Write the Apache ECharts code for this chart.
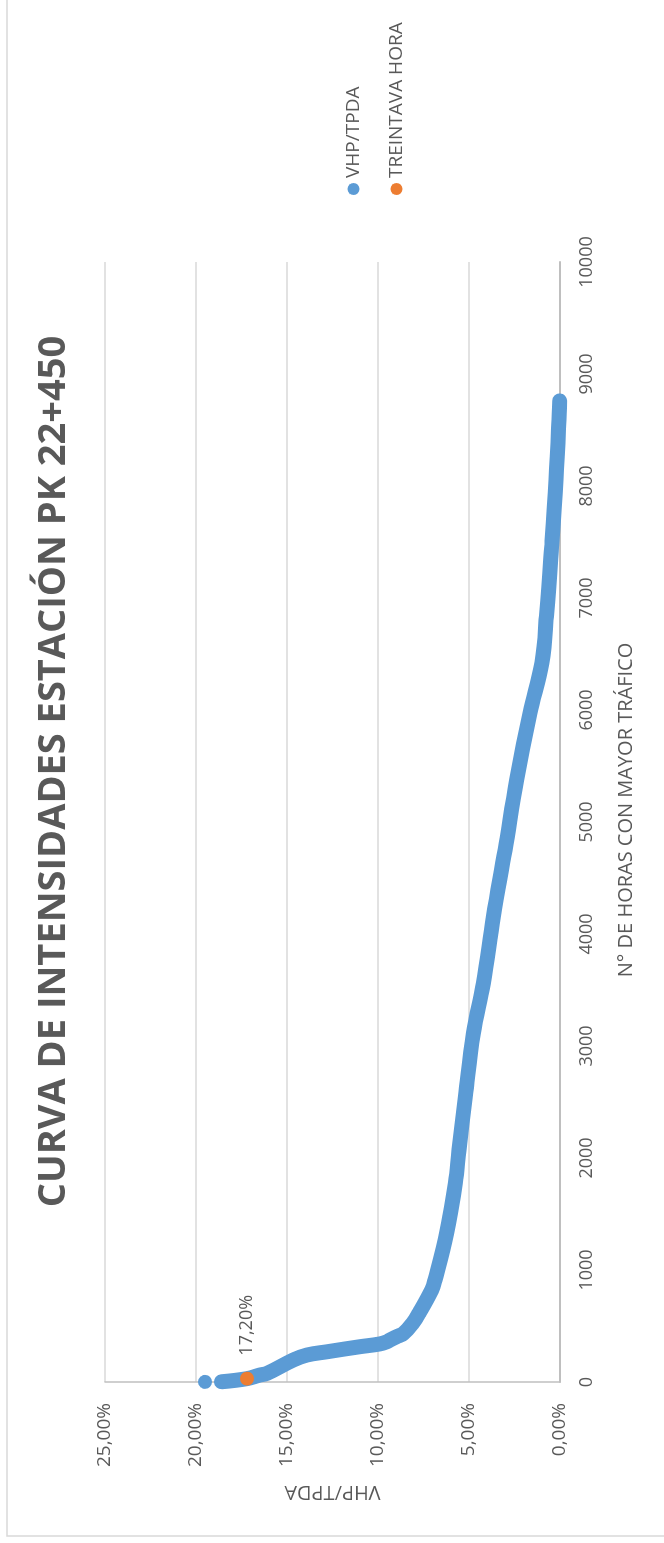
<!DOCTYPE html>
<html>
<head>
<meta charset="utf-8">
<script src="https://cdn.jsdelivr.net/npm/echarts@6/dist/echarts.min.js"></script>
<style>
  html, body { margin: 0; padding: 0; background: #fff; overflow: hidden; }
  #page { position: relative; width: 664px; height: 1543px; overflow: hidden; }
  /* the chart is laid out lying down and turned a quarter to the left */
  #chart {
    position: absolute; left: 0; top: 0;
    width: 1543px; height: 664px;
    transform-origin: 0 0;
    transform: translate(0, 1543px) rotate(-90deg);
  }
</style>
</head>
<body>
<div id="page"><div id="chart"></div></div>
<script>
// hours with more traffic (sorted), and VHP/TPDA in %
const hours = [2, 30, 62, 77, 197, 241, 270, 315, 340, 360, 375, 405, 434, 524, 613, 822, 910, 1330, 1776, 2072, 2549, 3113, 3559, 4155, 4750, 5375, 5973, 6419, 6866, 7455, 8054, 8651, 8760]
const ratio = [18.6, 17.2, 16.5, 16.1, 14.65, 13.9, 12.8, 11.0, 9.9, 9.5, 9.34, 8.97, 8.6, 8.1, 7.75, 7.05, 6.87, 6.23, 5.75, 5.55, 5.2, 4.76, 4.21, 3.66, 3.02, 2.38, 1.65, 1.0, 0.73, 0.46, 0.22, 0.04, 0.02]
// first hour sits apart from the curve
const firstHour = [1, 19.5]
// 30th hour
const hour30 = [30, 17.2]

const hourTicks = { min: 0, max: 10000, interval: 1000 }
const pctTicks = { min: 0, max: 25, interval: 5 }

const fmtPct = v => v.toFixed(2).replace('.', ',') + '%'
const grey = '#595959'
const font = 'Open Sans'

const chart = echarts.init(document.getElementById('chart'))
chart.setOption({
  backgroundColor: '#fff',
  animation: false,
  title: {
    text: 'CURVA DE INTENSIDADES ESTACIÓN PK 22+450',
    left: 'center',
    top: 30,
    textStyle: { fontFamily: font, fontSize: 38, fontWeight: 'bold', color: grey }
  },
  legend: {
    orient: 'vertical',
    left: 1343,
    top: 339,
    itemWidth: 12,
    itemHeight: 12,
    itemGap: 24,
    icon: 'circle',
    data: ['VHP/TPDA', 'TREINTAVA HORA'],
    textStyle: { fontFamily: font, fontSize: 19, color: grey }
  },
  grid: { left: 161, right: 262, top: 105, bottom: 104 },
  xAxis: {
    type: 'value',
    min: hourTicks.min, max: hourTicks.max, interval: hourTicks.interval,
    name: 'N° DE HORAS CON MAYOR TRÁFICO',
    nameLocation: 'middle',
    nameGap: 56,
    nameTextStyle: { fontFamily: font, fontSize: 20, color: grey, padding: [0, 0, 0, 24] },
    axisLine: { show: true, lineStyle: { color: '#bfbfbf', width: 2 } },
    axisTick: { show: false },
    splitLine: { show: false },
    axisLabel: { fontFamily: font, fontSize: 18, color: grey, margin: 18, formatter: v => String(v) }
  },
  yAxis: {
    type: 'value',
    min: pctTicks.min, max: pctTicks.max, interval: pctTicks.interval,
    name: 'VHP/TPDA',
    nameLocation: 'middle',
    nameGap: 100,
    nameTextStyle: { fontFamily: font, fontSize: 20, color: grey },
    axisLine: { show: true, lineStyle: { color: '#bfbfbf', width: 1.5 } },
    axisTick: { show: false },
    splitLine: { lineStyle: { color: '#d9d9d9', width: 1.5 } },
    axisLabel: { fontFamily: font, fontSize: 19, color: grey, margin: 21, formatter: fmtPct }
  },
  graphic: [{
    type: 'rect',
    silent: true,
    shape: { x: 7, y: 7, width: 3000, height: 3000 },
    style: { fill: 'none', stroke: '#d9d9d9', lineWidth: 1.5 }
  }],
  series: [
    {
      name: 'VHP/TPDA',
      type: 'line',
      z: 2,
      data: hours.map((h, i) => [h, ratio[i]]),
      showSymbol: false,
      smooth: 0.4,
      color: '#5b9bd5',
      lineStyle: { color: '#5b9bd5', width: 15, cap: 'round', join: 'round' }
    },
    {
      name: 'VHP/TPDA',
      type: 'scatter',
      z: 4,
      data: [firstHour],
      symbolSize: 14,
      itemStyle: { color: '#5b9bd5', opacity: 1 }
    },
    {
      name: 'TREINTAVA HORA',
      type: 'scatter',
      z: 5,
      data: [hour30],
      symbolSize: 14,
      itemStyle: { color: '#ed7d31', opacity: 1 },
      label: {
        show: true,
        position: 'right',
        distance: 16,
        formatter: p => fmtPct(p.value[1]),
        fontFamily: font,
        fontSize: 18,
        color: grey
      }
    }
  ]
})
</script>
</body>
</html>
